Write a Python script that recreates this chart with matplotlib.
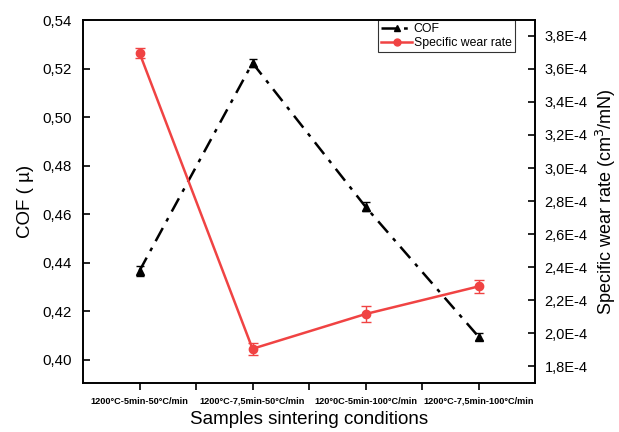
import matplotlib
matplotlib.use('Agg')
import matplotlib.pyplot as plt
from matplotlib.lines import Line2D
from matplotlib.ticker import FuncFormatter, MultipleLocator, FixedLocator

plt.rcParams['font.family'] = ['Liberation Sans', 'DejaVu Sans']

# Sintering conditions and measured values
conditions = ['1200°C-5min-50°C/min', '1200°C-7,5min-50°C/min',
              '120°0C-5min-100°C/min', '1200°C-7,5min-100°C/min']
cof = [0.4367, 0.5223, 0.4631, 0.4096]
cof_err = [0.0020, 0.0015, 0.0018, 0.0015]
wear_rate = [3.696e-4, 1.907e-4, 2.117e-4, 2.284e-4]
wear_err = [0.030e-4, 0.035e-4, 0.047e-4, 0.039e-4]

red = '#f04343'
dashdot = (0, (6, 3, 1.5, 3))
x = list(range(len(conditions)))

fig = plt.figure(figsize=(6.19, 4.32), dpi=100)
ax = fig.add_axes([0.1341, 0.1134, 0.7302, 0.8403])
ax2 = ax.twinx()

ax.errorbar(x, cof, yerr=cof_err, color='black', marker='^', markersize=6,
            linewidth=1.8, linestyle=dashdot, capsize=3,
            elinewidth=1, ecolor='black')
ax2.errorbar(x, wear_rate, yerr=wear_err, color=red, marker='o', markersize=6,
             linewidth=1.8, capsize=3.5, elinewidth=1, ecolor=red)

ax.set_xlim(-0.5, 3.5)
ax.set_ylim(0.3905, 0.54)
ax2.set_ylim(1.70e-4, 3.895e-4)

ax.set_xticks(x)
ax.set_xticklabels(conditions, fontsize=6.6, fontweight='bold')
ax.xaxis.set_minor_locator(FixedLocator([0.5, 1.5, 2.5]))
ax.tick_params(axis='x', which='both', direction='out', length=5, width=1.2, pad=5)
ax.tick_params(axis='y', direction='in', length=5, width=1.2, labelsize=10.8, pad=8)
ax2.tick_params(axis='y', direction='in', length=5, width=1.2, labelsize=10.5, pad=7)

ax.yaxis.set_major_locator(MultipleLocator(0.02))
ax.yaxis.set_major_formatter(FuncFormatter(lambda v, p: f'{v:.2f}'.replace('.', ',')))
ax2.yaxis.set_major_locator(MultipleLocator(0.2e-4))
ax2.yaxis.set_major_formatter(FuncFormatter(lambda v, p: f'{v * 1e4:.1f}E-4'.replace('.', ',')))

for a in (ax, ax2):
    for s in a.spines.values():
        s.set_linewidth(1.2)

ax.set_xlabel('Samples sintering conditions', fontsize=13.5, labelpad=4)
ax.set_ylabel('COF ( µ)', fontsize=13.5, labelpad=6)
ax2.set_ylabel('Specific wear rate (cm$^3$/mN)', fontsize=13, labelpad=4)

handles = [
    Line2D([], [], color='black', marker='^', markersize=5, linewidth=1.8,
           linestyle=dashdot),
    Line2D([], [], color=red, marker='o', markersize=5, linewidth=1.8),
]
leg = ax.legend(handles, ['COF', 'Specific wear rate'], loc='upper right',
                bbox_to_anchor=(0.955, 1.0), fontsize=8.8, frameon=True,
                fancybox=False, borderpad=0.25, handlelength=2.5,
                handletextpad=0.15, labelspacing=0.15, borderaxespad=0)
leg.get_frame().set_edgecolor('black')
leg.get_frame().set_linewidth(0.8)

fig.savefig('out.png', dpi=100)
